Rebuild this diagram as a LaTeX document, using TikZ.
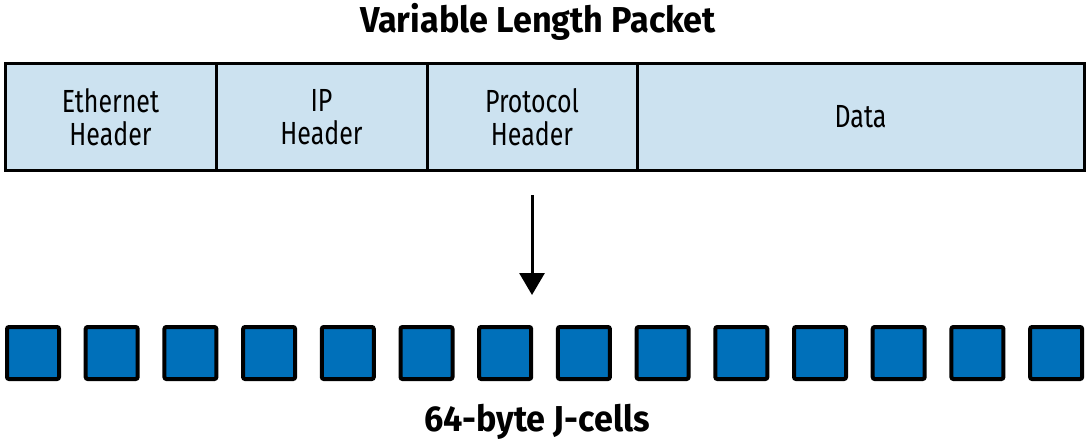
\documentclass[tikz,border=0pt]{standalone}
\usepackage{fontspec}
\setmainfont[FakeStretch=0.78]{Fira Sans}
\newfontfamily\headingfont[FakeStretch=0.95]{Fira Sans}
\usepackage{xcolor}
\usepackage{tikz}
\usetikzlibrary{
    arrows.meta,
    positioning
}

\definecolor{fieldblue}{RGB}{204,226,240}
\definecolor{cellblue}{RGB}{0,112,186}

\begin{document}
\begin{tikzpicture}[
        x=1pt, y=1pt,
        field/.style={
            rectangle,
            draw,
            line width=3pt,
            fill=fieldblue,
            align=center,
            minimum height=106pt,
            inner sep=0pt,
            outer sep=0pt,
            font=\fontsize{32}{33}\selectfont
        },
        cell/.style={
            rectangle,
            rounded corners=2pt,
            draw,
            line width=4pt,
            fill=cellblue,
            minimum size=52pt,
            inner sep=0pt,
            outer sep=0pt
        },
        titletext/.style={
            font=\headingfont\bfseries\fontsize{36}{38}\selectfont
        },
        line/.style={
            -{Triangle[width=25pt,length=22pt]},
            line width=3pt
        }
    ]

    \useasboundingbox (0,0) rectangle (1089,-444);

    \node[titletext, anchor=base] (title) at (538,-33)
        {Variable Length Packet};

    \node[field, minimum width=211pt] (ethernet) at (110.5,-117)
        {Ethernet\\Header};

    \node[field, minimum width=211pt, right=0pt of ethernet] (ip)
        {IP\\Header};

    \node[field, minimum width=210pt, right=0pt of ip] (protocol)
        {Protocol\\Header};

    \node[field, minimum width=447pt, right=0pt of protocol] (data)
        {Data};

    % the J-cells
    \node[cell] (cell0) at (33,-353) {};
    \foreach \i [remember=\i as \prev (initially 0)] in {1,...,13}
        \node[cell, right=26.7pt of cell\prev] (cell\i) {};

    \node[titletext, anchor=base] (cellname) at (537,-431)
        {64-byte J-cells};

    \coordinate (split) at (532,-195);
    \coordinate (merge) at (532,-295);
    \draw[line] (split) -- (merge);

    \end{tikzpicture}
\end{document}
